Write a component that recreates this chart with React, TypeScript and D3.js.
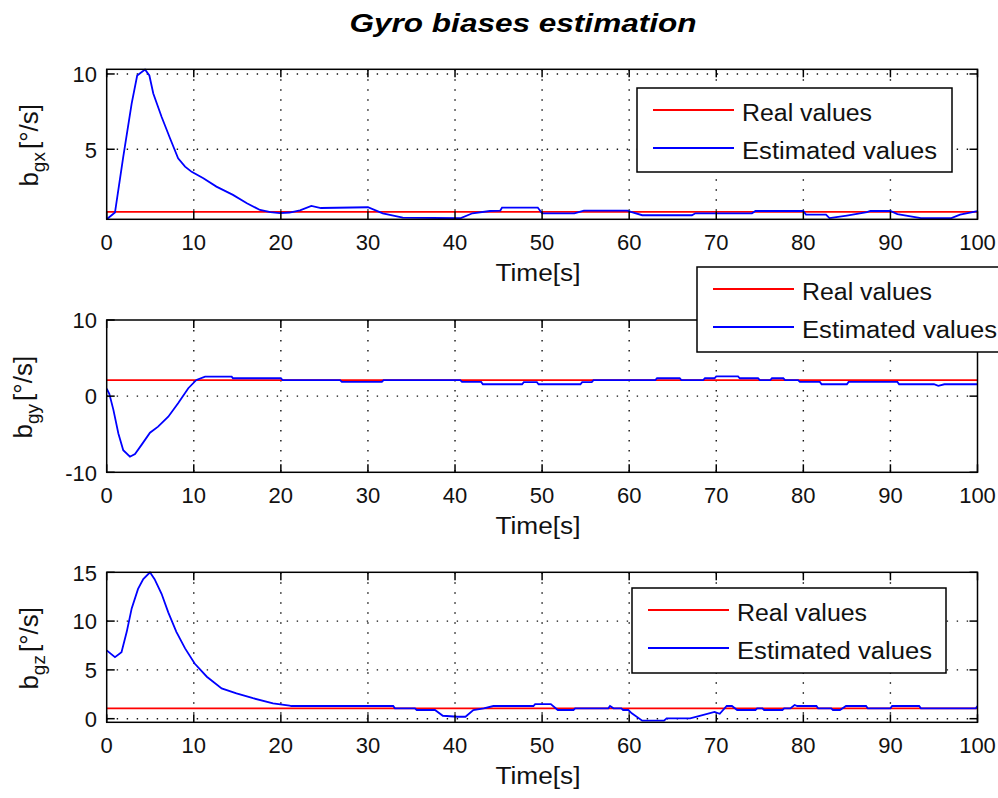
import React from 'react';
import * as d3 from 'd3';

// ---------- DATA ----------
const titleText = 'Gyro biases estimation';
const xTicks = [0, 10, 20, 30, 40, 50, 60, 70, 80, 90, 100];
const xLabel = 'Time[s]';
const legendLabels = ['Real values', 'Estimated values'];

const yTicksX = [5, 10];
const yTicksY = [-10, 0, 10];
const yTicksZ = [0, 5, 10, 15];

const yDomainX = [0.35, 10.31];
const yDomainY = [-10, 10];
const yDomainZ = [-0.37, 15];

const realX: [number, number][] = [[0, 0.84], [100, 0.84]];
const realY: [number, number][] = [[0, 2.1], [100, 2.1]];
const realZ: [number, number][] = [[0, 1.06], [100, 1.06]];

const estX: [number, number][] = [
  [0, 0.35], [0.95, 0.8], [1.9, 4.5], [2.87, 8.05], [3.5, 9.9], [4.4, 10.3], [4.9, 9.9], [5.35, 8.7],
  [6.3, 7.16], [7.27, 5.73], [8.2, 4.4], [9.0, 3.85], [9.76, 3.5], [11.1, 3.07], [12.6, 2.52],
  [14.5, 1.97], [16.1, 1.42], [17.6, 0.97], [18.8, 0.82], [19.9, 0.76], [21, 0.8], [22.2, 0.95],
  [23.5, 1.24], [24.6, 1.1], [30, 1.15], [31.7, 0.75], [34, 0.46], [40.6, 0.42], [42, 0.75],
  [44, 0.9], [45.2, 0.93], [45.4, 1.13], [49.5, 1.13], [50, 0.75], [53.7, 0.75], [54.8, 0.93],
  [59.8, 0.93], [60.2, 0.84], [61.5, 0.62], [67.2, 0.62], [67.6, 0.75], [74.1, 0.75], [74.5, 0.9],
  [80, 0.9], [80.3, 0.66], [82.6, 0.66], [83, 0.43], [85, 0.6], [87.3, 0.82], [87.7, 0.9], [90, 0.9],
  [90.8, 0.7], [93.5, 0.43], [97, 0.43], [98, 0.66], [100, 0.9],
];

const estY: [number, number][] = [
  [0, 1.0], [0.3, 0.3], [0.77, -1.8], [1.34, -4.9], [1.9, -7.1], [2.67, -7.95], [3.25, -7.6],
  [4.0, -6.4], [4.97, -4.8], [5.9, -4.0], [7.07, -2.7], [8.2, -0.94], [9.37, 1.04], [10.3, 2.13],
  [11.3, 2.57], [14.35, 2.57], [14.5, 2.35], [20, 2.35], [20.2, 2.1], [26.8, 2.1], [27, 1.87],
  [31.6, 1.87], [31.8, 2.1], [40.6, 2.1], [40.8, 1.87], [43, 1.87], [43.2, 1.56], [47.7, 1.56],
  [47.9, 1.83], [49.4, 1.83], [49.6, 1.56], [54.4, 1.56], [54.6, 1.83], [55.7, 1.83], [55.9, 2.1],
  [63, 2.1], [63.2, 2.35], [65.8, 2.35], [66, 2.1], [68.5, 2.1], [68.7, 2.35], [69.8, 2.35],
  [70, 2.6], [72.5, 2.6], [72.7, 2.35], [74.8, 2.35], [75, 2.1], [76.2, 2.1], [76.4, 2.35],
  [77.7, 2.35], [77.9, 2.1], [79.4, 2.1], [79.6, 1.87], [81.9, 1.87], [82.1, 1.56], [85, 1.56],
  [85.2, 1.87], [90.8, 1.87], [91, 1.56], [95, 1.56], [95.5, 1.35], [96.2, 1.56], [100, 1.56],
];

const estZ: [number, number][] = [
  [0, 7.0], [0.95, 6.3], [1.7, 6.8], [2.3, 8.9], [2.87, 11.3], [3.6, 13.3], [4.2, 14.3], [4.97, 15.0],
  [5.5, 14.3], [6.3, 12.8], [7.07, 10.9], [8.0, 8.9], [9.0, 7.2], [10.1, 5.65], [11.5, 4.3],
  [13.2, 3.1], [14.9, 2.6], [16.8, 2.1], [19.1, 1.57], [21, 1.35], [21.2, 1.3], [32.9, 1.3],
  [33.1, 1.06], [35.4, 1.06], [35.6, 0.89], [37.7, 0.89], [38.6, 0.3], [40.3, 0.2], [41.2, 0.2],
  [42.1, 0.89], [43.3, 1.06], [44.4, 1.3], [49, 1.3], [49.2, 1.5], [51, 1.5], [51.8, 0.89],
  [53.6, 0.89], [53.8, 1.06], [57.6, 1.06], [57.8, 1.3], [58.2, 1.06], [59.1, 1.06], [59.3, 0.89],
  [59.9, 0.89], [60.3, 0.55], [61.5, -0.2], [64, -0.2], [64.3, 0.04], [67, 0.04], [68.1, 0.3],
  [69.8, 0.7], [70.4, 0.5], [71.2, 1.3], [71.8, 1.3], [72.4, 0.89], [74.5, 0.89], [74.7, 1.06],
  [75.3, 1.06], [75.5, 0.89], [77.6, 0.89], [77.8, 1.06], [78.5, 1.06], [79, 1.4], [79.3, 1.3],
  [81.5, 1.3], [81.7, 1.06], [83.2, 1.06], [83.4, 0.89], [84.2, 0.89], [84.9, 1.3], [87.2, 1.3],
  [87.4, 1.06], [90, 1.06], [90.2, 1.3], [93.3, 1.3], [93.5, 1.06], [99.8, 1.06], [100, 1.3],
];

// ---------- LAYOUT ----------
const FONT = "'Liberation Sans', Arial, Helvetica, sans-serif";
const X0 = 106.7;
const X1 = 977.5;

type PanelDef = {
  id: string;
  top: number;
  bottom: number;
  yDomain: number[];
  yTicks: number[];
  real: [number, number][];
  est: [number, number][];
  sub: string;
  labelX: number;
  legend: { x: number; y: number; w: number; h: number };
};

const panels: PanelDef[] = [
  { id: 'x', top: 69.3, bottom: 219.3, yDomain: yDomainX, yTicks: yTicksX, real: realX, est: estX, sub: 'gx', labelX: 38,
    legend: { x: 637, y: 88, w: 315, h: 84 } },
  { id: 'y', top: 320, bottom: 472.3, yDomain: yDomainY, yTicks: yTicksY, real: realY, est: estY, sub: 'gy', labelX: 32,
    legend: { x: 697, y: 267, w: 320, h: 85 } },
  { id: 'z', top: 572.3, bottom: 722.3, yDomain: yDomainZ, yTicks: yTicksZ, real: realZ, est: estZ, sub: 'gz', labelX: 38,
    legend: { x: 632, y: 588, w: 314, h: 85 } },
];

const xScale = d3.scaleLinear().domain([0, 100]).range([X0, X1]);

function Panel({ p }: { p: PanelDef }) {
  const y = d3.scaleLinear().domain(p.yDomain).range([p.bottom, p.top]);
  const line = d3.line<[number, number]>().x((d) => xScale(d[0])).y((d) => y(d[1]));
  const tickLen = 8;
  const gridStyle = { stroke: '#111', strokeWidth: 1.4, strokeDasharray: '1.4 8.6' };
  const L = p.legend;
  const cy = (p.top + p.bottom) / 2 + 1;
  return (
    <g>
      <defs>
        <clipPath id={'clip-' + p.id}>
          <rect x={X0} y={p.top - 1} width={X1 - X0} height={p.bottom - p.top + 2} />
        </clipPath>
      </defs>
      <rect x={X0} y={p.top} width={X1 - X0} height={p.bottom - p.top} fill="#fff" />
      {/* grid */}
      {xTicks.filter((t) => t > 0 && t < 100).map((t) => (
        <line key={'gx' + t} x1={xScale(t)} x2={xScale(t)} y1={p.top} y2={p.bottom} {...gridStyle} />
      ))}
      {p.yTicks.filter((t) => y(t) > p.top + 1 && y(t) < p.bottom - 1).map((t) => (
        <line key={'gy' + t} x1={X0} x2={X1} y1={y(t)} y2={y(t)} {...gridStyle} />
      ))}
      {/* data */}
      <g clipPath={`url(#clip-${p.id})`}>
        <path d={line(p.real) || ''} fill="none" stroke="#ff0000" strokeWidth={1.8} />
        <path d={line(p.est) || ''} fill="none" stroke="#0000ff" strokeWidth={1.8} />
      </g>
      {/* ticks */}
      {xTicks.map((t) => (
        <g key={'tx' + t}>
          <line x1={xScale(t)} x2={xScale(t)} y1={p.bottom} y2={p.bottom - tickLen} stroke="#000" strokeWidth={1.5} />
          <line x1={xScale(t)} x2={xScale(t)} y1={p.top} y2={p.top + tickLen} stroke="#000" strokeWidth={1.5} />
          <text x={xScale(t)} y={p.bottom + 31} textAnchor="middle" fontSize={22} fontFamily={FONT} fill="#111">{t}</text>
        </g>
      ))}
      {p.yTicks.map((t) => (
        <g key={'ty' + t}>
          <line x1={X0} x2={X0 + tickLen} y1={y(t)} y2={y(t)} stroke="#000" strokeWidth={1.5} />
          <line x1={X1} x2={X1 - tickLen} y1={y(t)} y2={y(t)} stroke="#000" strokeWidth={1.5} />
          <text x={97} y={y(t) + 8.3} textAnchor="end" fontSize={22} fontFamily={FONT} fill="#111">{t}</text>
        </g>
      ))}
      {/* box */}
      <rect x={X0} y={p.top} width={X1 - X0} height={p.bottom - p.top} fill="none" stroke="#000" strokeWidth={1.5} />
      {/* x label */}
      <text x={538} y={p.bottom + 62} textAnchor="middle" fontSize={23} fontFamily={FONT} fill="#111"
        textLength={85} lengthAdjust="spacingAndGlyphs">{xLabel}</text>
      {/* y label */}
      <text transform={`translate(${p.labelX},${cy}) rotate(-90)`} textAnchor="middle" fontSize={26} fontFamily={FONT} fill="#111">
        <tspan>b</tspan>
        <tspan fontSize={19} dy={7}>{p.sub}</tspan>
        <tspan dy={-7} dx={3}>[°/s]</tspan>
      </text>
      {/* legend */}
      <rect x={L.x} y={L.y} width={L.w} height={L.h} fill="#fff" stroke="#000" strokeWidth={1.5} />
      <line x1={L.x + 16} x2={L.x + 97} y1={L.y + 22} y2={L.y + 22} stroke="#ff0000" strokeWidth={1.8} />
      <line x1={L.x + 16} x2={L.x + 97} y1={L.y + 60} y2={L.y + 60} stroke="#0000ff" strokeWidth={1.8} />
      <text x={L.x + 105} y={L.y + 32.5} fontSize={23} fontFamily={FONT} fill="#111"
        textLength={130} lengthAdjust="spacingAndGlyphs">{legendLabels[0]}</text>
      <text x={L.x + 105} y={L.y + 70.5} fontSize={23} fontFamily={FONT} fill="#111"
        textLength={195} lengthAdjust="spacingAndGlyphs">{legendLabels[1]}</text>
    </g>
  );
}

export default function App() {
  return (
    <svg width={998} height={798} viewBox="0 0 998 798"
      style={{ position: 'absolute', left: 0, top: 0, background: '#fff', display: 'block' }}>
      <rect x={0} y={0} width={998} height={798} fill="#fff" />
      <text x={523} y={32} textAnchor="middle" fontSize={25} fontWeight="bold" fontStyle="italic" fontFamily={FONT}
        fill="#000" textLength={347} lengthAdjust="spacingAndGlyphs">{titleText}</text>
      {panels.map((p) => <Panel key={p.id} p={p} />)}
    </svg>
  );
}
